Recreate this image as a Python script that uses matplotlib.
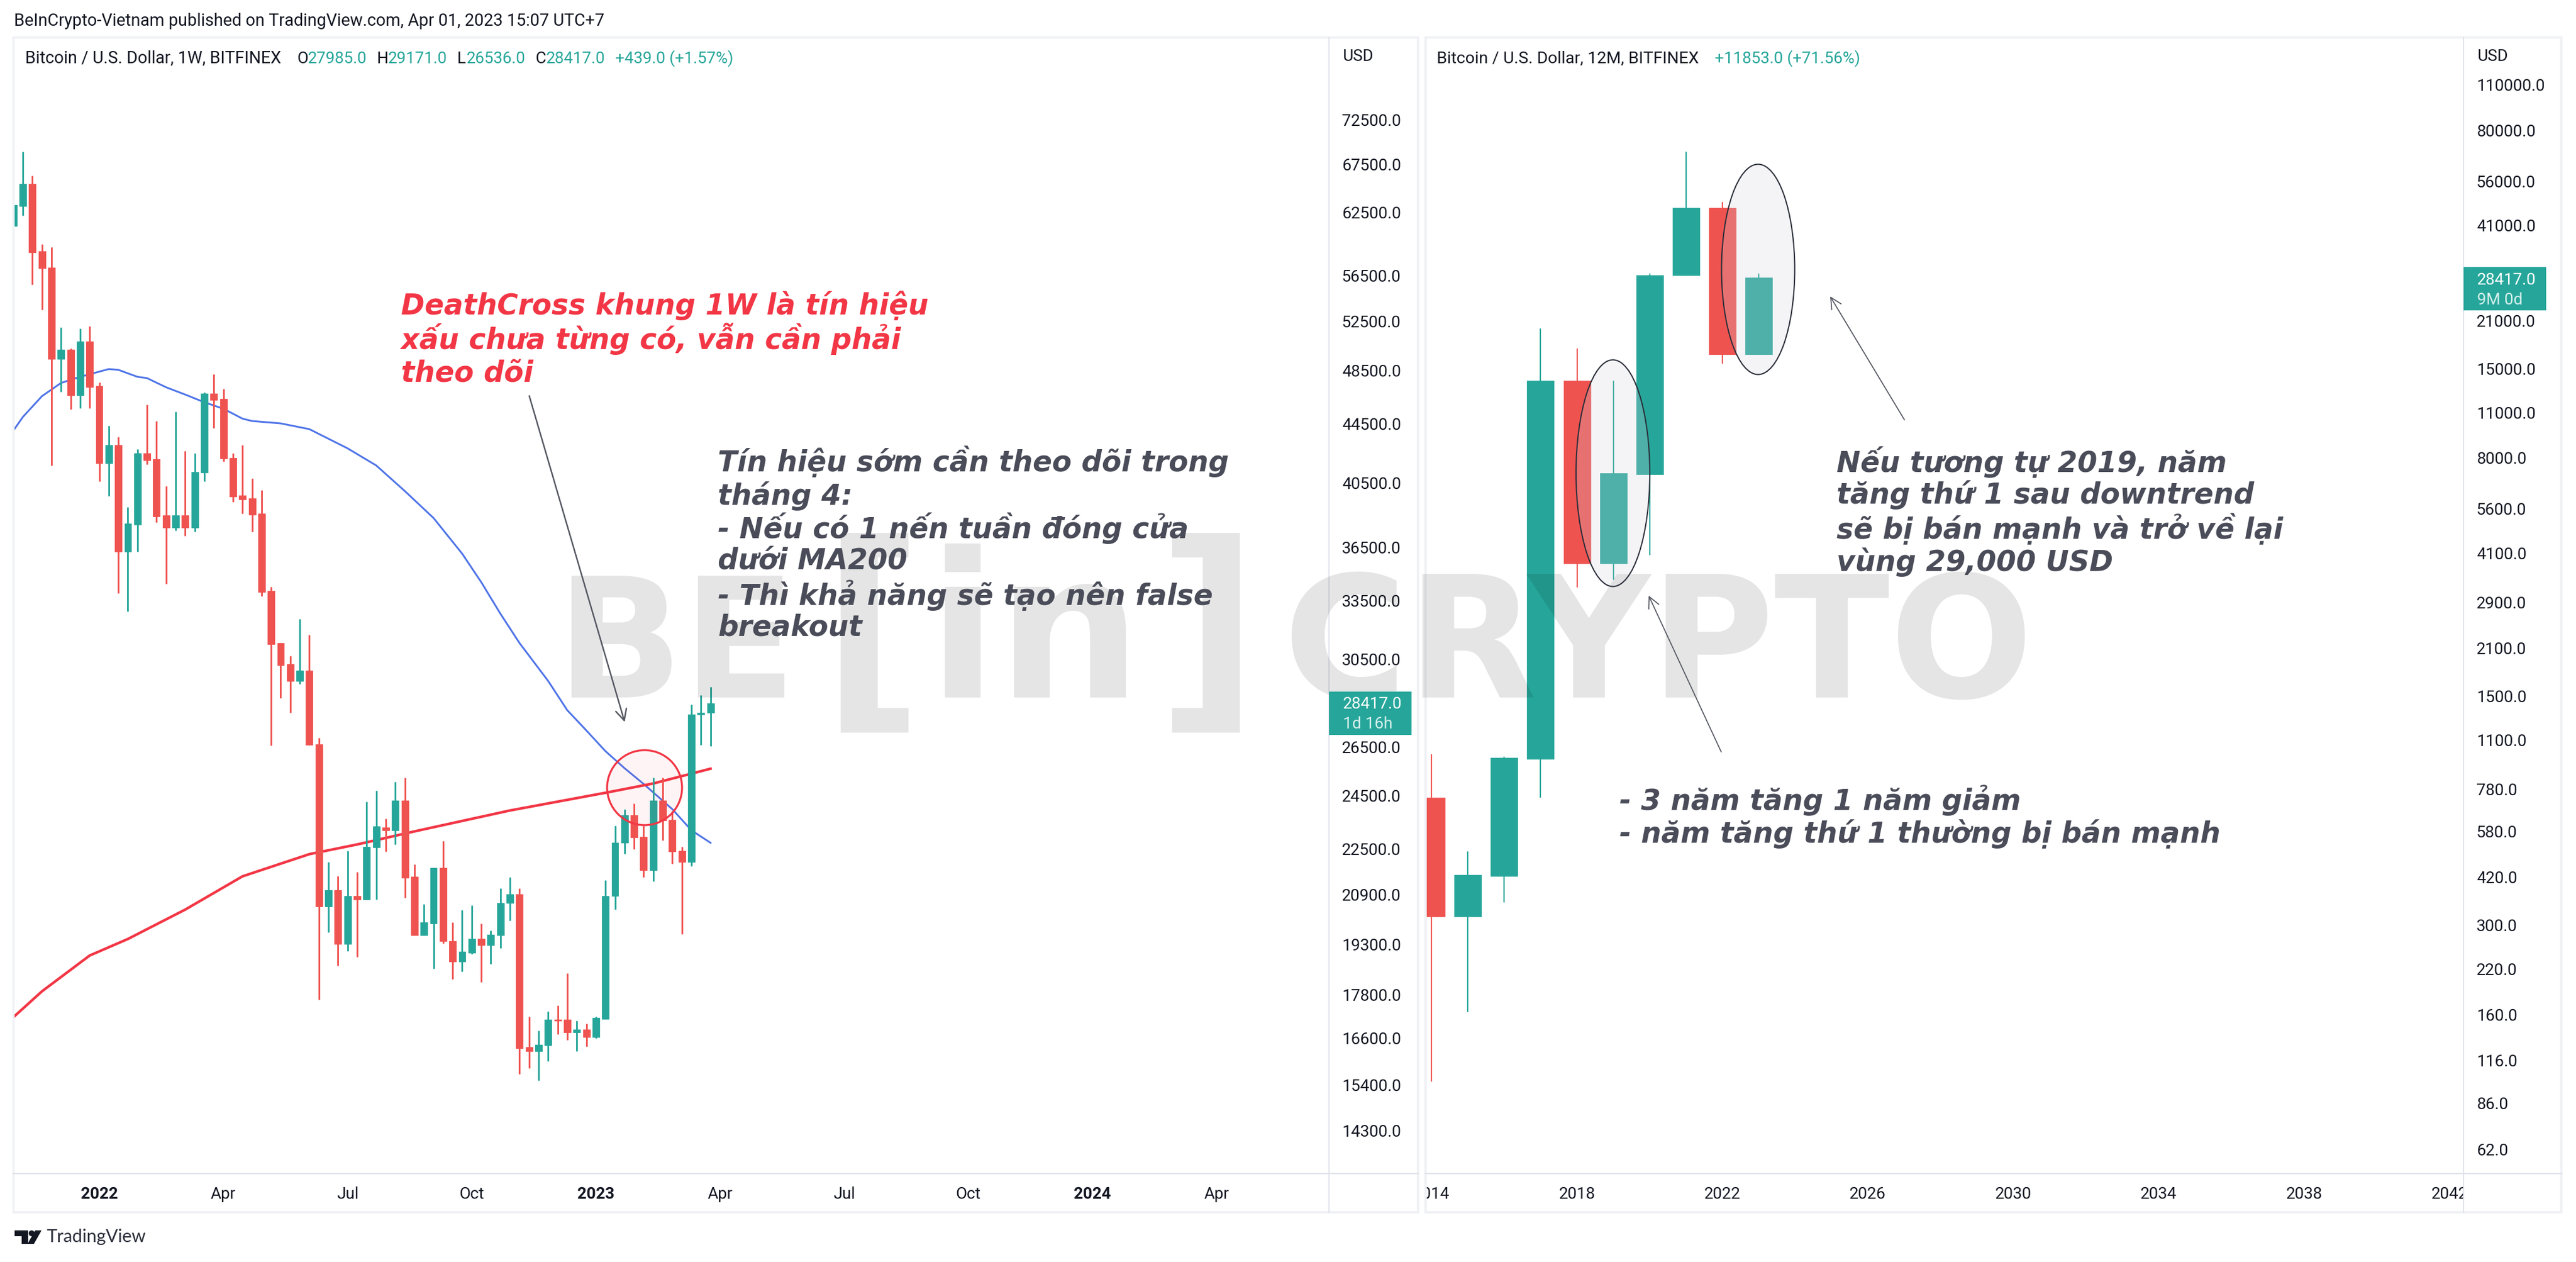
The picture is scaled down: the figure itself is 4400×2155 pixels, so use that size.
import numpy as np
import matplotlib
matplotlib.use('Agg')
import matplotlib.pyplot as plt
from matplotlib.patches import Rectangle, Ellipse, Polygon, Circle
from matplotlib.ticker import NullLocator
from matplotlib.transforms import Bbox

# --- Weekly candles (left chart) ---
w_open = [61140, 63130, 65430, 58710, 57200, 49400, 50150, 46580, 50800, 47300,
          41780, 43030, 36240, 37860, 42440, 42060, 38420, 37680, 38420, 37680,
          41160, 46710, 46320, 42130, 39680, 39500, 38530, 34040, 31300, 30260,
          29450, 29940, 26600, 20510, 21050, 19310, 20850, 20730, 22540, 23280,
          23170, 24300, 21510, 19570, 19950, 21810, 19400, 18760, 19040, 19460,
          19260, 19570, 20610, 20910, 16360, 16250, 16400, 17090, 17090, 16750,
          16830, 16620, 17110, 20850, 22710, 23730, 22930, 21730, 24300, 23570,
          22410, 22030, 27900, 27985]
w_high = [63250, 68900, 66300, 59390, 59110, 51950, 50240, 51870, 52060, 47560,
          44370, 43570, 38920, 42720, 45900, 44710, 40270, 45390, 42600, 42440,
          46830, 48200, 47100, 42440, 43030, 40780, 40000, 34270, 31300, 30660,
          32530, 31720, 26870, 22030, 21530, 22420, 21670, 24260, 24690, 23610,
          25040, 25210, 21930, 20570, 21810, 22780, 19990, 20390, 20530, 19950,
          19730, 21110, 21490, 21110, 17180, 16800, 17330, 17490, 18420, 17060,
          16980, 17180, 21390, 23350, 23960, 24190, 23350, 25210, 25210, 23900,
          22560, 28360, 28790, 29171]
w_low = [61140, 62220, 55660, 53450, 41630, 46880, 45560, 45640, 45640, 40580,
         39620, 33910, 32920, 36240, 41700, 38000, 34430, 37500, 37190, 37430,
         40580, 44200, 41900, 39250, 38530, 37430, 33750, 26550, 28650, 27990,
         29310, 26570, 17660, 19670, 18640, 19080, 18910, 20730, 20730, 22390,
         22640, 20790, 19570, 19570, 18560, 19330, 18240, 18470, 18990, 18150,
         18690, 19170, 20040, 15660, 15810, 15500, 15990, 16700, 16540, 16250,
         16370, 16590, 17110, 20400, 22310, 22470, 21490, 21350, 22800, 21960,
         19610, 21870, 26570, 26536]
w_close = [63250, 65430, 58600, 57150, 49400, 50150, 46580, 50800, 47200, 41780,
           43030, 36240, 37930, 42440, 41980, 38350, 37680, 38420, 37680, 41200,
           46710, 46240, 42100, 39600, 39420, 38460, 33980, 31250, 30200, 29450,
           29940, 26570, 20510, 21050, 19310, 20850, 20730, 22560, 23310, 23170,
           24300, 21470, 19570, 19990, 21810, 19390, 18760, 19060, 19460, 19260,
           19590, 20610, 20910, 16330, 16250, 16420, 17090, 17060, 16750, 16830,
           16620, 17140, 20850, 22710, 23730, 22910, 21730, 24300, 23530, 22390,
           22030, 27900, 28000, 28417]

# moving averages, read at these bars
ma200_bars = [0, 3, 8, 12, 18, 24, 31, 36, 42, 52, 62, 67, 73]
ma200_vals = [17160, 17890, 18950, 19460, 20400, 21520, 22300, 22650, 23130, 23920, 24610, 24980, 25580]
ma50_bars = [0, 1, 3, 5, 7, 9, 10, 11, 13, 14, 16, 18, 20, 22, 24, 25, 28, 31, 35, 38, 41,
             44, 47, 49, 51, 53, 56, 58, 60, 62, 64, 66, 69, 71, 73]
ma50_vals = [44020, 45000, 46530, 47530, 48000, 48400, 48600, 48540, 48000, 47900, 47200,
             46650, 46080, 45600, 44880, 44710, 44540, 44130, 42790, 41630, 39950,
             38260, 36130, 34510, 32810, 31300, 29450, 28100, 27200, 26310, 25600,
             24960, 23970, 23170, 22710]

w_yticks = [72500, 67500, 62500, 56500, 52500, 48500, 44500, 40500, 36500, 33500,
            30500, 26500, 24500, 22500, 20900, 19300, 17800, 16600, 15400, 14300]
w_xtick_bars = [9, 22, 35, 48, 61, 74, 87, 100, 113, 126]
w_xtick_labels = ['2022', 'Apr', 'Jul', 'Oct', '2023', 'Apr', 'Jul', 'Oct', '2024', 'Apr']

# --- Yearly candles (right chart) ---
years = [2014, 2015, 2016, 2017, 2018, 2019, 2020, 2021, 2022, 2023]
y_open = [736, 319, 424, 962, 13750, 3810, 7120, 28860, 46330, 16564]
y_high = [995, 504, 979, 19830, 17250, 13750, 29270, 68800, 48280, 29171]
y_low = [100, 163, 351, 736, 3216, 3400, 4040, 28800, 15500, 16500]
y_close = [319, 426, 971, 13750, 3810, 7170, 28860, 46330, 16564, 28417]

y_yticks = [110000, 80000, 56000, 41000, 21000, 15000, 11000, 8000, 5600, 4100, 2900,
            2100, 1500, 1100, 780, 580, 420, 300, 220, 160, 116, 86, 62]
y_xticks = [2014, 2018, 2022, 2026, 2030, 2034, 2038, 2042]

UP = '#26a69a'
DOWN = '#ef5350'
BAND = '#eff1f5'
LINE = '#e0e3eb'
TXT = '#131722'
NOTE = '#4a4d59'
FONT = 'Roboto'
NOTE_FONT = 'DejaVu Sans'

W, H = 4400, 2155
fig = plt.figure(figsize=(W / 100, H / 100), dpi=100, facecolor='white')


def px_axes(x0, y0, x1, y1):
    return fig.add_axes([x0 / W, 1 - y1 / H, (x1 - x0) / W, (y1 - y0) / H])


def candles(ax, xs, o, h, l, c, body, wick_lw):
    o, h, l, c = map(np.array, (o, h, l, c))
    colors = [UP if b >= a else DOWN for a, b in zip(o, c)]
    ax.vlines(xs, l, h, colors=colors, linewidth=wick_lw, zorder=2)
    ax.bar(xs, np.abs(c - o), bottom=np.minimum(o, c), width=body, color=colors,
           edgecolor=colors, linewidth=0.6, zorder=2.5)


def style_axes(ax, yticks, pad_y):
    ax.set_yscale('log')
    ax.yaxis.tick_right()
    ax.set_yticks(yticks)
    ax.set_yticklabels([f'{v}.0' for v in yticks], fontsize=20, color=TXT, family=FONT)
    ax.yaxis.set_minor_locator(NullLocator())
    ax.tick_params(axis='y', which='both', length=0, pad=pad_y)
    ax.tick_params(axis='x', length=0, pad=16)
    for s in ax.spines.values():
        s.set_visible(False)
    ax.set_facecolor('none')


# --- Left chart ---
ax1 = px_axes(24, 64, 2270, 2004)
bars = np.arange(len(w_open))
ax1.plot(ma50_bars, ma50_vals, color='#4f74e8', lw=2.2, zorder=1.5)
ax1.plot(ma200_bars, ma200_vals, color='#f23645', lw=3.2, zorder=1.6)
candles(ax1, bars, w_open, w_high, w_low, w_close, 0.73, 2.1)
style_axes(ax1, w_yticks, 16)
ax1.set_xlim(0.08, 137.75)
ax1.set_ylim(13351, 82780)
ax1.set_xticks(w_xtick_bars)
ax1.set_xticklabels(w_xtick_labels, fontsize=20, color=TXT, family=FONT)
for lab in ax1.get_xticklabels():
    if lab.get_text().isdigit():
        lab.set_fontweight('bold')

# --- Right chart ---
ax2 = px_axes(2434, 64, 4208, 2004)
candles(ax2, years, y_open, y_high, y_low, y_close, 0.74, 1.6)
style_axes(ax2, y_yticks, 16)
ax2.set_xlim(2013.82, 2042.39)
ax2.set_ylim(52.3, 153500)
ax2.set_xticks(y_xticks)
ax2.set_xticklabels([str(v) for v in y_xticks], fontsize=20, color=TXT, family=FONT)
clip = Bbox([[2436, 0], [4208, H]])
for lab in ax2.get_xticklabels():
    lab.set_clip_box(clip)
    lab.set_clip_on(True)

# --- Overlay in picture pixels: frames, drawings, texts ---
ov = fig.add_axes([0, 0, 1, 1])
ov.set_xlim(0, W)
ov.set_ylim(H, 0)
ov.axis('off')
ov.patch.set_alpha(0)

for x0, x1 in [(22, 2423), (2434, 4376)]:
    ov.add_patch(Rectangle((x0, 62), x1 - x0, 4, color=BAND, lw=0))
    ov.add_patch(Rectangle((x0, 2068), x1 - x0, 4, color=BAND, lw=0))
    ov.add_patch(Rectangle((x0 - 1, 62), 4, 2010, color=BAND, lw=0))
    ov.add_patch(Rectangle((x1 - 3, 62), 4, 2010, color=BAND, lw=0))
    ov.plot([x0, x1], [2004, 2004], color=LINE, lw=1.6)
ov.plot([2270, 2270], [64, 2070], color=LINE, lw=1.4)
ov.plot([4208, 4208], [64, 2070], color=LINE, lw=1.4)

# watermark sits over the candles
wm = dict(color='black', alpha=0.1, fontweight='bold', va='baseline', ha='left',
          family='DejaVu Sans', zorder=5)
ov.text(950, 1191, 'BE', fontsize=205, **wm)
ov.text(1402, 1200, '[', fontsize=275, **wm)
ov.text(1585, 1191, 'in', fontsize=250, **wm)
ov.text(1975, 1200, ']', fontsize=275, **wm)
ov.text(2192, 1191, 'CRYPTO', fontsize=208, **wm)

# drawings
ov.add_patch(Circle((1101, 1345), 64, fc='#f23645', alpha=0.05, lw=0, zorder=6))
ov.add_patch(Circle((1101, 1345), 64, fc='none', ec='#f23645', lw=2.4, zorder=6))
for cx, cy, ew, eh in [(2755, 808, 126, 387), (3003, 460, 125, 359)]:
    ov.add_patch(Ellipse((cx, cy), ew, eh, fc='#d1d4dc', alpha=0.24, lw=0, zorder=6))
    ov.add_patch(Ellipse((cx, cy), ew, eh, fc='none', ec='#2a2e39', lw=1.5, zorder=6))
for p0, p1, lw in [((904, 676), (1067, 1233), 1.8), ((3253, 717), (3126, 506), 1.3),
                   ((2940, 1284), (2816, 1017), 1.3)]:
    ov.annotate('', xy=p1, xytext=p0, zorder=6,
                arrowprops=dict(arrowstyle='->', color='#555862', lw=lw, mutation_scale=34,
                                shrinkA=0, shrinkB=0))

# annotation texts
note = dict(family=NOTE_FONT, fontsize=35, fontweight='bold', style='italic', va='center',
            ha='left', zorder=7)
red_lines = ['DeathCross khung 1W là tín hiệu', 'xấu chưa từng có, vẫn cần phải', 'theo dõi']
for y, s in zip([522, 578, 637], red_lines):
    ov.text(685, y, s, color='#f23645', **note)
left_lines = ['Tín hiệu sớm cần theo dõi trong', 'tháng 4:', '- Nếu có 1 nến tuần đóng cửa',
              'dưới MA200', '- Thì khả năng sẽ tạo nên false', 'breakout']
for y, s in zip([788, 847, 902, 957, 1017, 1072], left_lines):
    ov.text(1226, y, s, color=NOTE, **note)
right_lines = ['Nếu tương tự 2019, năm', 'tăng thứ 1 sau downtrend',
               'sẽ bị bán mạnh và trở về lại', 'vùng 29,000 USD']
for y, s in zip([789, 845, 903, 960], right_lines):
    ov.text(3137, y, s, color=NOTE, **note)
low_lines = ['- 3 năm tăng 1 năm giảm', '- năm tăng thứ 1 thường bị bán mạnh']
for y, s in zip([1367, 1424], low_lines):
    ov.text(2766, y, s, color=NOTE, **note)

# header and legends
small = dict(family=FONT, fontsize=20, va='center', ha='left', zorder=8)
ov.text(24, 36, 'BeInCrypto-Vietnam published on TradingView.com, Apr 01, 2023 15:07 UTC+7',
        color=TXT, family=FONT, fontsize=20.8, va='center', ha='left')
ov.text(43, 100, 'Bitcoin / U.S. Dollar, 1W, BITFINEX', color=TXT, family=FONT, fontsize=20.8,
        va='center', ha='left')
for x, s in [(507, 'O'), (644, 'H'), (781, 'L'), (914, 'C')]:
    ov.text(x, 100, s, color=TXT, **small)
for x, s in [(526, '27985.0'), (663, '29171.0'), (797, '26536.0'), (933, '28417.0'),
             (1051, '+439.0 (+1.57%)')]:
    ov.text(x, 100, s, color=UP, **small)
ov.text(2454, 100, 'Bitcoin / U.S. Dollar, 12M, BITFINEX', color=TXT, family=FONT, fontsize=20.5,
        va='center', ha='left')
ov.text(2929, 100, '+11853.0 (+71.56%)', color=UP, **small)
ov.text(2293, 97, 'USD', color=TXT, **small)
ov.text(4231, 97, 'USD', color=TXT, **small)

# last price boxes
for x0, x1, y0, y1, tx, sub in [(2270, 2411, 1181, 1255, 2294, '1d 16h'),
                                (4208, 4349, 456, 530, 4231, '9M 0d')]:
    ov.add_patch(Rectangle((x0, y0), x1 - x0, y1 - y0, color=UP, lw=0, zorder=8))
    ov.text(tx, y0 + 22, '28417.0', color='white', **{**small, 'zorder': 9})
    ov.text(tx, y0 + 56, sub, color='#d5efec', **{**small, 'zorder': 9})

# TradingView logo
ov.add_patch(Polygon([(25, 2101), (48, 2101), (48, 2124), (37, 2124), (37, 2111), (25, 2111)],
                     color=TXT, lw=0))
ov.add_patch(Circle((54, 2106), 5, color=TXT, lw=0))
ov.add_patch(Polygon([(60, 2101), (71, 2101), (58, 2124), (47, 2124)], color=TXT, lw=0))
ov.text(80, 2112, 'TradingView', family='Lato', fontsize=22, color='#2a2e39', va='center', ha='left')

fig.savefig('out.png', dpi=100, facecolor='white')
